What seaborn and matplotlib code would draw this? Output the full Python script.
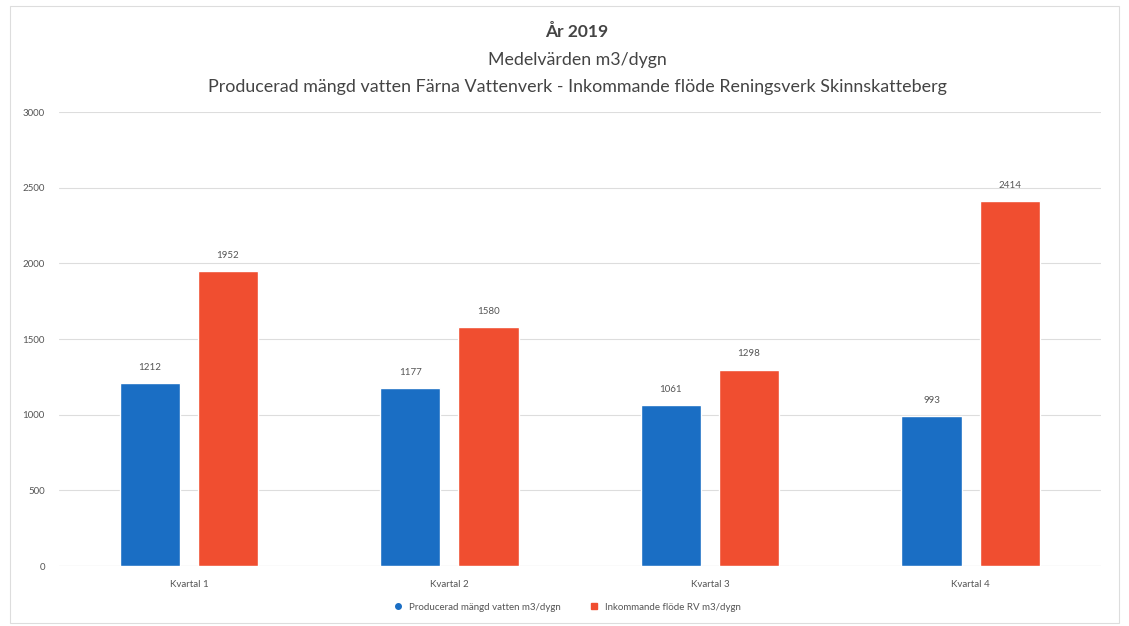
import numpy as np
import pandas as pd
import seaborn as sns
import matplotlib.pyplot as plt
from matplotlib.lines import Line2D
from matplotlib.patches import Rectangle

quarters = ['Kvartal 1', 'Kvartal 2', 'Kvartal 3', 'Kvartal 4']
producerad = [1212, 1177, 1061, 993]
inkommande = [1952, 1580, 1298, 2414]
series = ['Producerad mängd vatten m3/dygn', 'Inkommande flöde RV m3/dygn']
yticks = [0, 500, 1000, 1500, 2000, 2500, 3000]

df = pd.DataFrame({'kvartal': quarters * 2,
                   'serie': [series[0]] * 4 + [series[1]] * 4,
                   'varde': producerad + inkommande})

sns.set_theme(style='white')
plt.rcParams['font.family'] = ['Lato', 'DejaVu Sans']

blue = '#1a6ec4'
red = '#f04e30'
txt = '#555555'

fig = plt.figure(figsize=(11.29, 6.26), dpi=100)
ax = fig.add_axes([0.052, 0.0958, 0.923, 0.7252])

sns.barplot(data=df, x='kvartal', y='varde', hue='serie', palette=[blue, red],
            width=0.6, gap=0.23, ax=ax, legend=False, saturation=1)

for cont in ax.containers:
    ax.bar_label(cont, fmt='%d', padding=8, fontsize=7, color=txt)

ax.set_ylim(0, 3000)
ax.set_xlim(-0.5, 3.5)
ax.set_yticks(yticks)
ax.set_yticklabels(yticks, fontsize=7, color=txt)
ax.tick_params(axis='x', labelsize=7, labelcolor=txt, pad=4)
ax.tick_params(axis='y', pad=10, length=0)
ax.set_xlabel('')
ax.set_ylabel('')
ax.yaxis.grid(True, color='#dddddd', linewidth=0.8)
ax.set_axisbelow(True)
for s in ax.spines.values():
    s.set_visible(False)
ax.axhline(0, color='#cccccc', linewidth=0.8, zorder=0)

tx = 577 / 1129
fig.text(tx, 1 - 32 / 626, 'År 2019', ha='center', va='center',
         fontsize=12.5, fontweight='bold', color='#444444')
fig.text(tx, 1 - 60 / 626, 'Medelvärden m3/dygn', ha='center', va='center',
         fontsize=12.8, color='#444444')
fig.text(tx, 1 - 87 / 626,
         'Producerad mängd vatten Färna Vattenverk - Inkommande flöde Reningsverk Skinnskatteberg',
         ha='center', va='center', fontsize=12.9, color='#444444')

handles = [Line2D([], [], linestyle='', marker='o', color=blue, markersize=4),
           Line2D([], [], linestyle='', marker='s', color=red, markersize=5)]
fig.legend(handles, series, loc='center', bbox_to_anchor=(0.5, 1 - 607 / 626),
           ncol=2, frameon=False, fontsize=7, handletextpad=0.1,
           columnspacing=2.5, labelcolor=txt)

fig.patches.append(Rectangle((0.009, 0.005), 0.982, 0.985, transform=fig.transFigure,
                             fill=False, edgecolor='#dddddd', linewidth=0.8))

fig.savefig('out.png', dpi=100)
